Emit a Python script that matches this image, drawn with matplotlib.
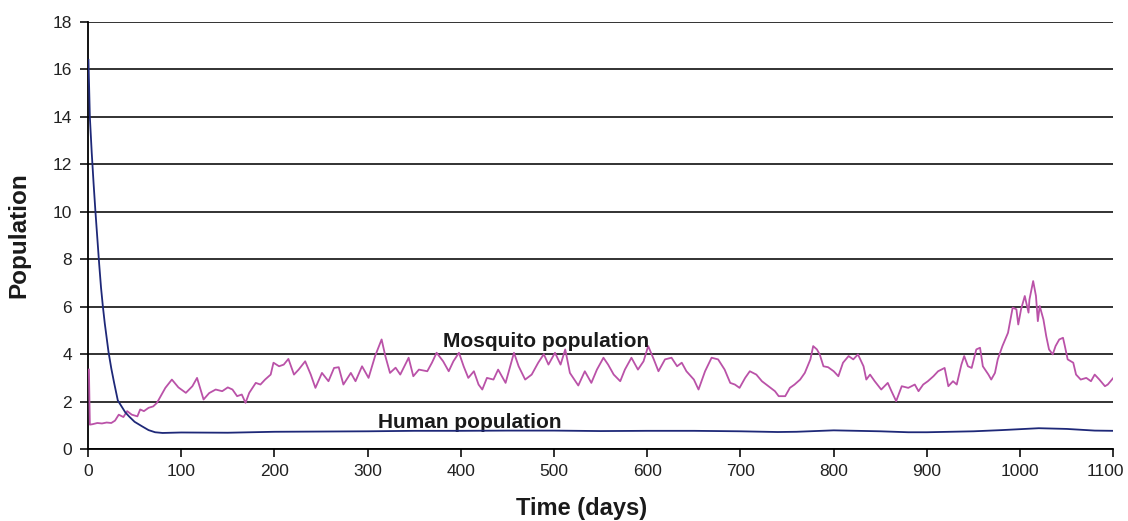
import numpy as np
import matplotlib.pyplot as plt
import matplotlib.transforms as mtrans

plt.rcParams["font.family"] = ["Liberation Sans", "DejaVu Sans"]

# Mosquito population
mosq_days = [1, 2, 5, 10, 15, 20, 25, 29, 33, 38, 42, 47, 53, 56, 60, 65, 70, 74, 78, 83,
             90, 97, 105, 112, 117, 124, 130, 137, 144, 150, 155, 160, 165, 169, 173, 180,
             185, 190, 196, 199, 205, 210, 215, 221, 226, 233, 239, 244, 251, 258, 264,
             269, 274, 282, 287, 294, 301, 308, 315, 319, 324, 330, 335, 344, 349, 355,
             364, 369, 374, 381, 387, 392, 398, 403, 408, 414, 419, 423, 428, 435, 440,
             448, 453, 457, 462, 469, 476, 483, 489, 494, 501, 507, 512, 517, 526, 533,
             540, 546, 553, 558, 564, 571, 576, 583, 590, 596, 601, 607, 612, 619, 626,
             632, 637, 642, 650, 655, 662, 669, 676, 683, 689, 694, 699, 705, 710, 717,
             723, 730, 737, 741, 748, 753, 758, 764, 769, 775, 778, 782, 785, 789, 794,
             800, 805, 810, 816, 821, 826, 832, 835, 839, 844, 851, 858, 862, 867, 873,
             880, 887, 891, 896, 901, 907, 912, 919, 923, 928, 932, 937, 940, 944, 948,
             953, 957, 960, 966, 969, 973, 976, 981, 987, 992, 996, 998, 1001, 1005, 1009,
             1010, 1014, 1017, 1019, 1021, 1025, 1028, 1031, 1035, 1038, 1042, 1046, 1048,
             1051, 1057, 1060, 1065, 1071, 1076, 1080, 1085, 1091, 1094, 1100]
mosq_vals = [3.35, 1.03, 1.05, 1.1, 1.08, 1.12, 1.1, 1.2, 1.45, 1.35, 1.6, 1.45, 1.38, 1.67,
             1.6, 1.74, 1.8, 1.95, 2.23, 2.58, 2.93, 2.6, 2.37, 2.65, 3.0, 2.09, 2.36, 2.51,
             2.44, 2.6, 2.51, 2.23, 2.3, 1.95, 2.37, 2.79, 2.72, 2.93, 3.14, 3.64, 3.49,
             3.56, 3.8, 3.14, 3.35, 3.7, 3.14, 2.58, 3.21, 2.86, 3.42, 3.45, 2.72, 3.21,
             2.86, 3.49, 3.0, 3.92, 4.62, 3.92, 3.21, 3.43, 3.14, 3.85, 3.07, 3.35, 3.28,
             3.64, 4.06, 3.7, 3.28, 3.7, 4.06, 3.49, 3.0, 3.28, 2.72, 2.51, 3.0, 2.93, 3.35,
             2.79, 3.49, 4.06, 3.49, 2.93, 3.14, 3.64, 4.0, 3.56, 4.06, 3.56, 4.2, 3.21,
             2.68, 3.28, 2.79, 3.35, 3.85, 3.56, 3.14, 2.86, 3.35, 3.85, 3.35, 3.7, 4.34,
             3.78, 3.28, 3.78, 3.85, 3.49, 3.64, 3.28, 2.93, 2.51, 3.28, 3.85, 3.78, 3.35,
             2.79, 2.72, 2.58, 3.0, 3.28, 3.14, 2.86, 2.65, 2.44, 2.23, 2.23, 2.58, 2.72,
             2.93, 3.21, 3.78, 4.34, 4.2, 3.99, 3.49, 3.45, 3.28, 3.07, 3.64, 3.92, 3.78,
             3.99, 3.49, 2.93, 3.14, 2.86, 2.51, 2.79, 2.44, 2.02, 2.65, 2.58, 2.72, 2.44,
             2.72, 2.86, 3.07, 3.28, 3.42, 2.65, 2.86, 2.72, 3.56, 3.92, 3.49, 3.42, 4.2,
             4.27, 3.49, 3.14, 2.93, 3.21, 3.78, 4.34, 4.9, 5.96, 5.89, 5.25, 5.89, 6.45,
             5.75, 6.3, 7.08, 6.45, 5.39, 6.03, 5.46, 4.76, 4.2, 3.99, 4.34, 4.62, 4.69,
             4.34, 3.78, 3.64, 3.14, 2.93, 3.0, 2.86, 3.14, 2.93, 2.65, 2.72, 3.0]

# Human population
human_days = [0.5, 2, 4, 6, 8, 10, 12, 14, 16, 18, 20, 22, 25, 28, 32, 36, 40, 44, 50, 58,
              65, 72, 80, 100, 150, 200, 250, 300, 350, 400, 450, 500, 550, 600, 650, 700,
              740, 760, 800, 850, 880, 900, 950, 980, 1020, 1050, 1080, 1100]
human_vals = [16.4, 14.0, 12.5, 11.2, 10.0, 8.9, 7.8, 6.8, 6.0, 5.3, 4.7, 4.1, 3.4, 2.8,
              2.05, 1.8, 1.55, 1.38, 1.15, 0.96, 0.8, 0.71, 0.68, 0.7, 0.69, 0.73, 0.74,
              0.75, 0.77, 0.77, 0.78, 0.78, 0.76, 0.77, 0.77, 0.75, 0.72, 0.73, 0.79, 0.75,
              0.71, 0.71, 0.75, 0.8, 0.88, 0.85, 0.78, 0.77]

x_ticks = list(range(0, 1101, 100))
x_labels = [str(t) for t in x_ticks]
y_ticks = list(range(0, 19, 2))


def main():
    fig = plt.figure(figsize=(11.28, 5.21), dpi=100)
    ax = fig.add_axes([0.078, 0.138, 0.909, 0.82])

    ax.plot(mosq_days, mosq_vals, color="#BA52A8", lw=1.3, zorder=3)
    ax.plot(human_days, human_vals, color="#1E2878", lw=1.3, zorder=4)

    ax.set_xlim(0, 1100)
    ax.set_ylim(0, 18)
    ax.set_xticks(x_ticks)
    # the last label is drawn by hand, nudged left so it fits in the figure
    ax.set_xticklabels(x_labels[:-1] + [""])
    ax.set_yticks(y_ticks)
    ax.yaxis.grid(True, color="#222222", lw=1.3)
    ax.set_axisbelow(True)

    for s in ["top", "right"]:
        ax.spines[s].set_visible(False)
    ax.spines["left"].set_linewidth(1.3)
    ax.spines["bottom"].set_linewidth(1.3)
    tick_len, x_pad = 5.5, 5
    ax.tick_params(direction="out", length=tick_len, width=1.3, labelsize=12.5,
                   colors="#222222")
    ax.tick_params(axis="y", pad=6)
    ax.tick_params(axis="x", pad=x_pad)

    shift = mtrans.ScaledTranslation(-8 / 100, -(tick_len + x_pad) / 72, fig.dpi_scale_trans)
    ax.text(x_ticks[-1], 0, x_labels[-1], fontsize=12.5, color="#222222",
            ha="center", va="top", transform=ax.get_xaxis_transform() + shift)

    # Labels
    ax.set_xlabel("Time (days)", fontsize=17, fontweight="bold", color="#1a1a1a")
    ax.xaxis.set_label_coords(0.481, -0.113)
    ax.set_ylabel("Population", fontsize=17.5, fontweight="bold", color="#1a1a1a")
    ax.yaxis.set_label_coords(-0.056, 0.5)

    ax.text(491, 4.55, "Mosquito population", fontsize=15, fontweight="bold",
            ha="center", va="center", color="#1a1a1a")
    ax.text(410, 1.12, "Human population", fontsize=15, fontweight="bold",
            ha="center", va="center", color="#1a1a1a")

    plt.savefig("out.png", dpi=100)
    plt.close()


if __name__ == "__main__":
    main()
